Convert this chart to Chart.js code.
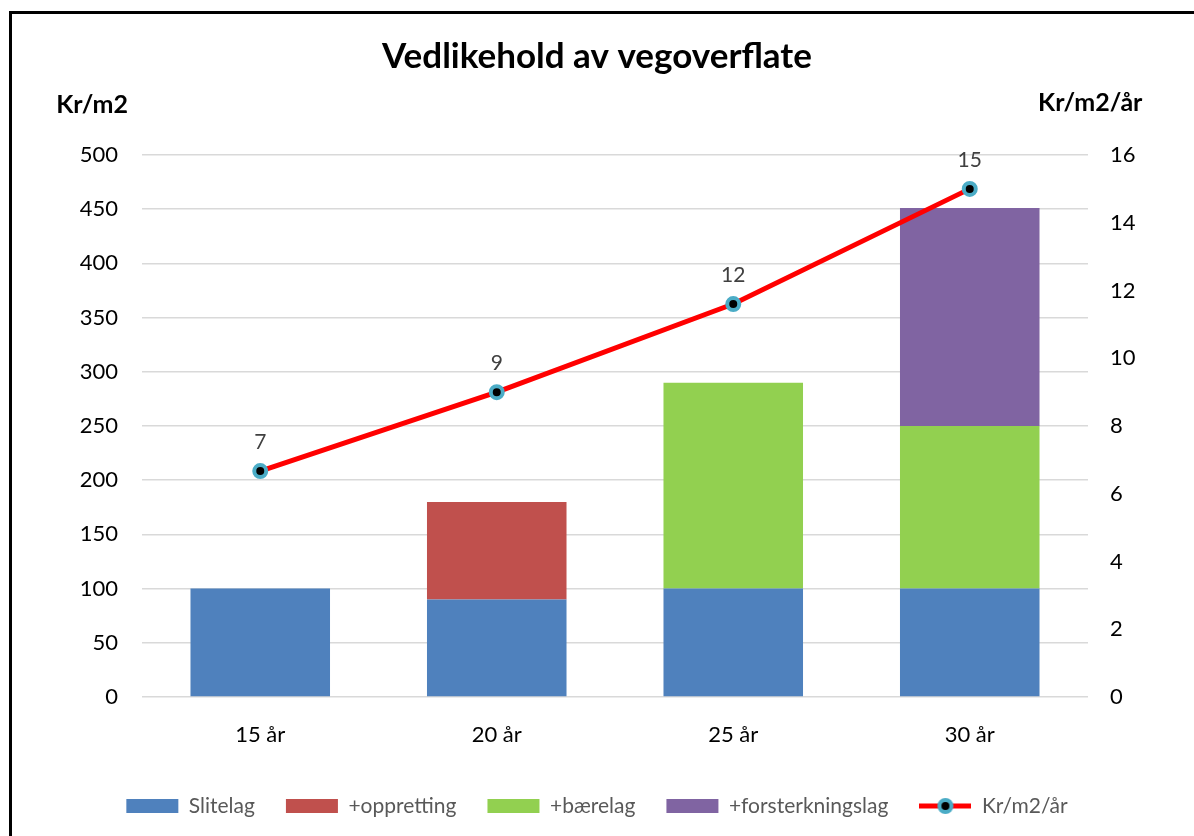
<!DOCTYPE html>
<html>
<head>
<meta charset="utf-8">
<script src="https://cdn.jsdelivr.net/npm/chart.js@4.4.0/dist/chart.umd.min.js"></script>
<style>
  html, body { margin: 0; padding: 0; background: #fff; overflow: hidden; }
  #frame { position: absolute; left: 9px; top: 11px; width: 1400px; height: 1000px;
           border-left: 3px solid #000; border-top: 3px solid #000; }
  #wrap { position: absolute; left: 0; top: 0; width: 1194px; height: 836px; }
</style>
</head>
<body>
<div id="frame"></div>
<div id="wrap"><canvas id="chart"></canvas></div>
<script>
// data
const categories = ['15 år', '20 år', '25 år', '30 år'];
const slitelag = [100, 90, 100, 100];
const oppretting = [null, 90, null, null];
const baerelag = [null, null, 190, 150];
const forsterkningslag = [null, null, null, 201];
const krPerAar = [6.67, 9, 11.6, 15];

Chart.defaults.font.family = 'Lato';

// little icon for the line entry in the legend
const lineIcon = document.createElement('canvas');
lineIcon.width = 52;
lineIcon.height = 18;
(function () {
  const c = lineIcon.getContext('2d');
  c.strokeStyle = '#ff0000';
  c.lineWidth = 5;
  c.beginPath(); c.moveTo(0, 9); c.lineTo(52, 9); c.stroke();
  c.beginPath(); c.arc(26, 9, 6, 0, Math.PI * 2);
  c.fillStyle = '#000'; c.fill();
  c.lineWidth = 4; c.strokeStyle = '#4bacc6'; c.stroke();
})();

// axis titles above the axes + value labels over the line points
const extras = {
  id: 'extras',
  afterDatasetsDraw(chart) {
    const ctx = chart.ctx;
    const area = chart.chartArea;
    ctx.save();
    ctx.textBaseline = 'middle';
    ctx.font = '21px Lato';
    ctx.fillStyle = '#404040';
    ctx.textAlign = 'center';
    chart.getDatasetMeta(4).data.forEach((pt, i) => {
      ctx.fillText(String(Math.round(krPerAar[i])), pt.x, pt.y - 29);
    });
    ctx.font = 'bold 25px Lato';
    ctx.fillStyle = '#000';
    ctx.textAlign = 'right';
    ctx.fillText('Kr/m2', area.left - 14, area.top - 50);
    ctx.textAlign = 'left';
    ctx.fillText('Kr/m2/år', area.right - 50, area.top - 52);
    ctx.restore();
  }
};

new Chart(document.getElementById('chart'), {
  type: 'bar',
  data: {
    labels: categories,
    datasets: [
      { label: 'Slitelag', data: slitelag, backgroundColor: '#4f81bd', yAxisID: 'y', order: 1 },
      { label: '+oppretting', data: oppretting, backgroundColor: '#c0504d', yAxisID: 'y', order: 1 },
      { label: '+bærelag', data: baerelag, backgroundColor: '#92d050', yAxisID: 'y', order: 1 },
      { label: '+forsterkningslag', data: forsterkningslag, backgroundColor: '#8064a2', yAxisID: 'y', order: 1 },
      {
        type: 'line', label: 'Kr/m2/år', data: krPerAar, yAxisID: 'y1', order: 0,
        borderColor: '#ff0000', borderWidth: 5, backgroundColor: '#000',
        pointRadius: 6, pointBorderWidth: 4, pointBackgroundColor: '#000',
        pointBorderColor: '#4bacc6', tension: 0
      }
    ]
  },
  options: {
    responsive: true,
    maintainAspectRatio: false,
    animation: false,
    layout: { padding: { top: 0, bottom: 9.5, left: 0, right: 0 } },
    datasets: { bar: { categoryPercentage: 1, barPercentage: 0.59, borderWidth: 0 } },
    scales: {
      x: {
        stacked: true,
        grid: { display: false },
        border: { display: false },
        ticks: { color: '#000', font: { size: 22 }, padding: 16.8 },
        afterFit: (s) => { s.height = 67.5; }
      },
      y: {
        stacked: true,
        position: 'left',
        min: 0, max: 500,
        grid: { color: '#d9d9d9', lineWidth: 1.5, drawTicks: false },
        border: { display: false },
        ticks: { stepSize: 50, color: '#000', font: { size: 22 }, padding: 24 },
        afterFit: (s) => { s.width = 142; }
      },
      y1: {
        position: 'right',
        min: 0, max: 16,
        grid: { drawOnChartArea: false, drawTicks: false },
        border: { display: false },
        ticks: { stepSize: 2, color: '#000', font: { size: 22 }, padding: 22 },
        afterFit: (s) => { s.width = 106; }
      }
    },
    plugins: {
      title: {
        display: true,
        text: 'Vedlikehold av vegoverflate',
        color: '#000',
        font: { size: 35, weight: 'bold' },
        padding: { top: 36, bottom: 77 }
      },
      legend: {
        position: 'bottom',
        labels: {
          color: '#595959',
          font: { size: 21 },
          usePointStyle: true,
          pointStyleWidth: 52,
          boxHeight: 14,
          padding: 31,
          sort: (a, b) => a.datasetIndex - b.datasetIndex,
          generateLabels(chart) {
            const items = Chart.defaults.plugins.legend.labels.generateLabels(chart);
            items.forEach(it => {
              it.pointStyle = it.datasetIndex === 4 ? lineIcon : 'rect';
              it.lineWidth = 0;
            });
            return items;
          }
        }
      },
      tooltip: { enabled: false }
    }
  },
  plugins: [extras]
});
</script>
</body>
</html>
